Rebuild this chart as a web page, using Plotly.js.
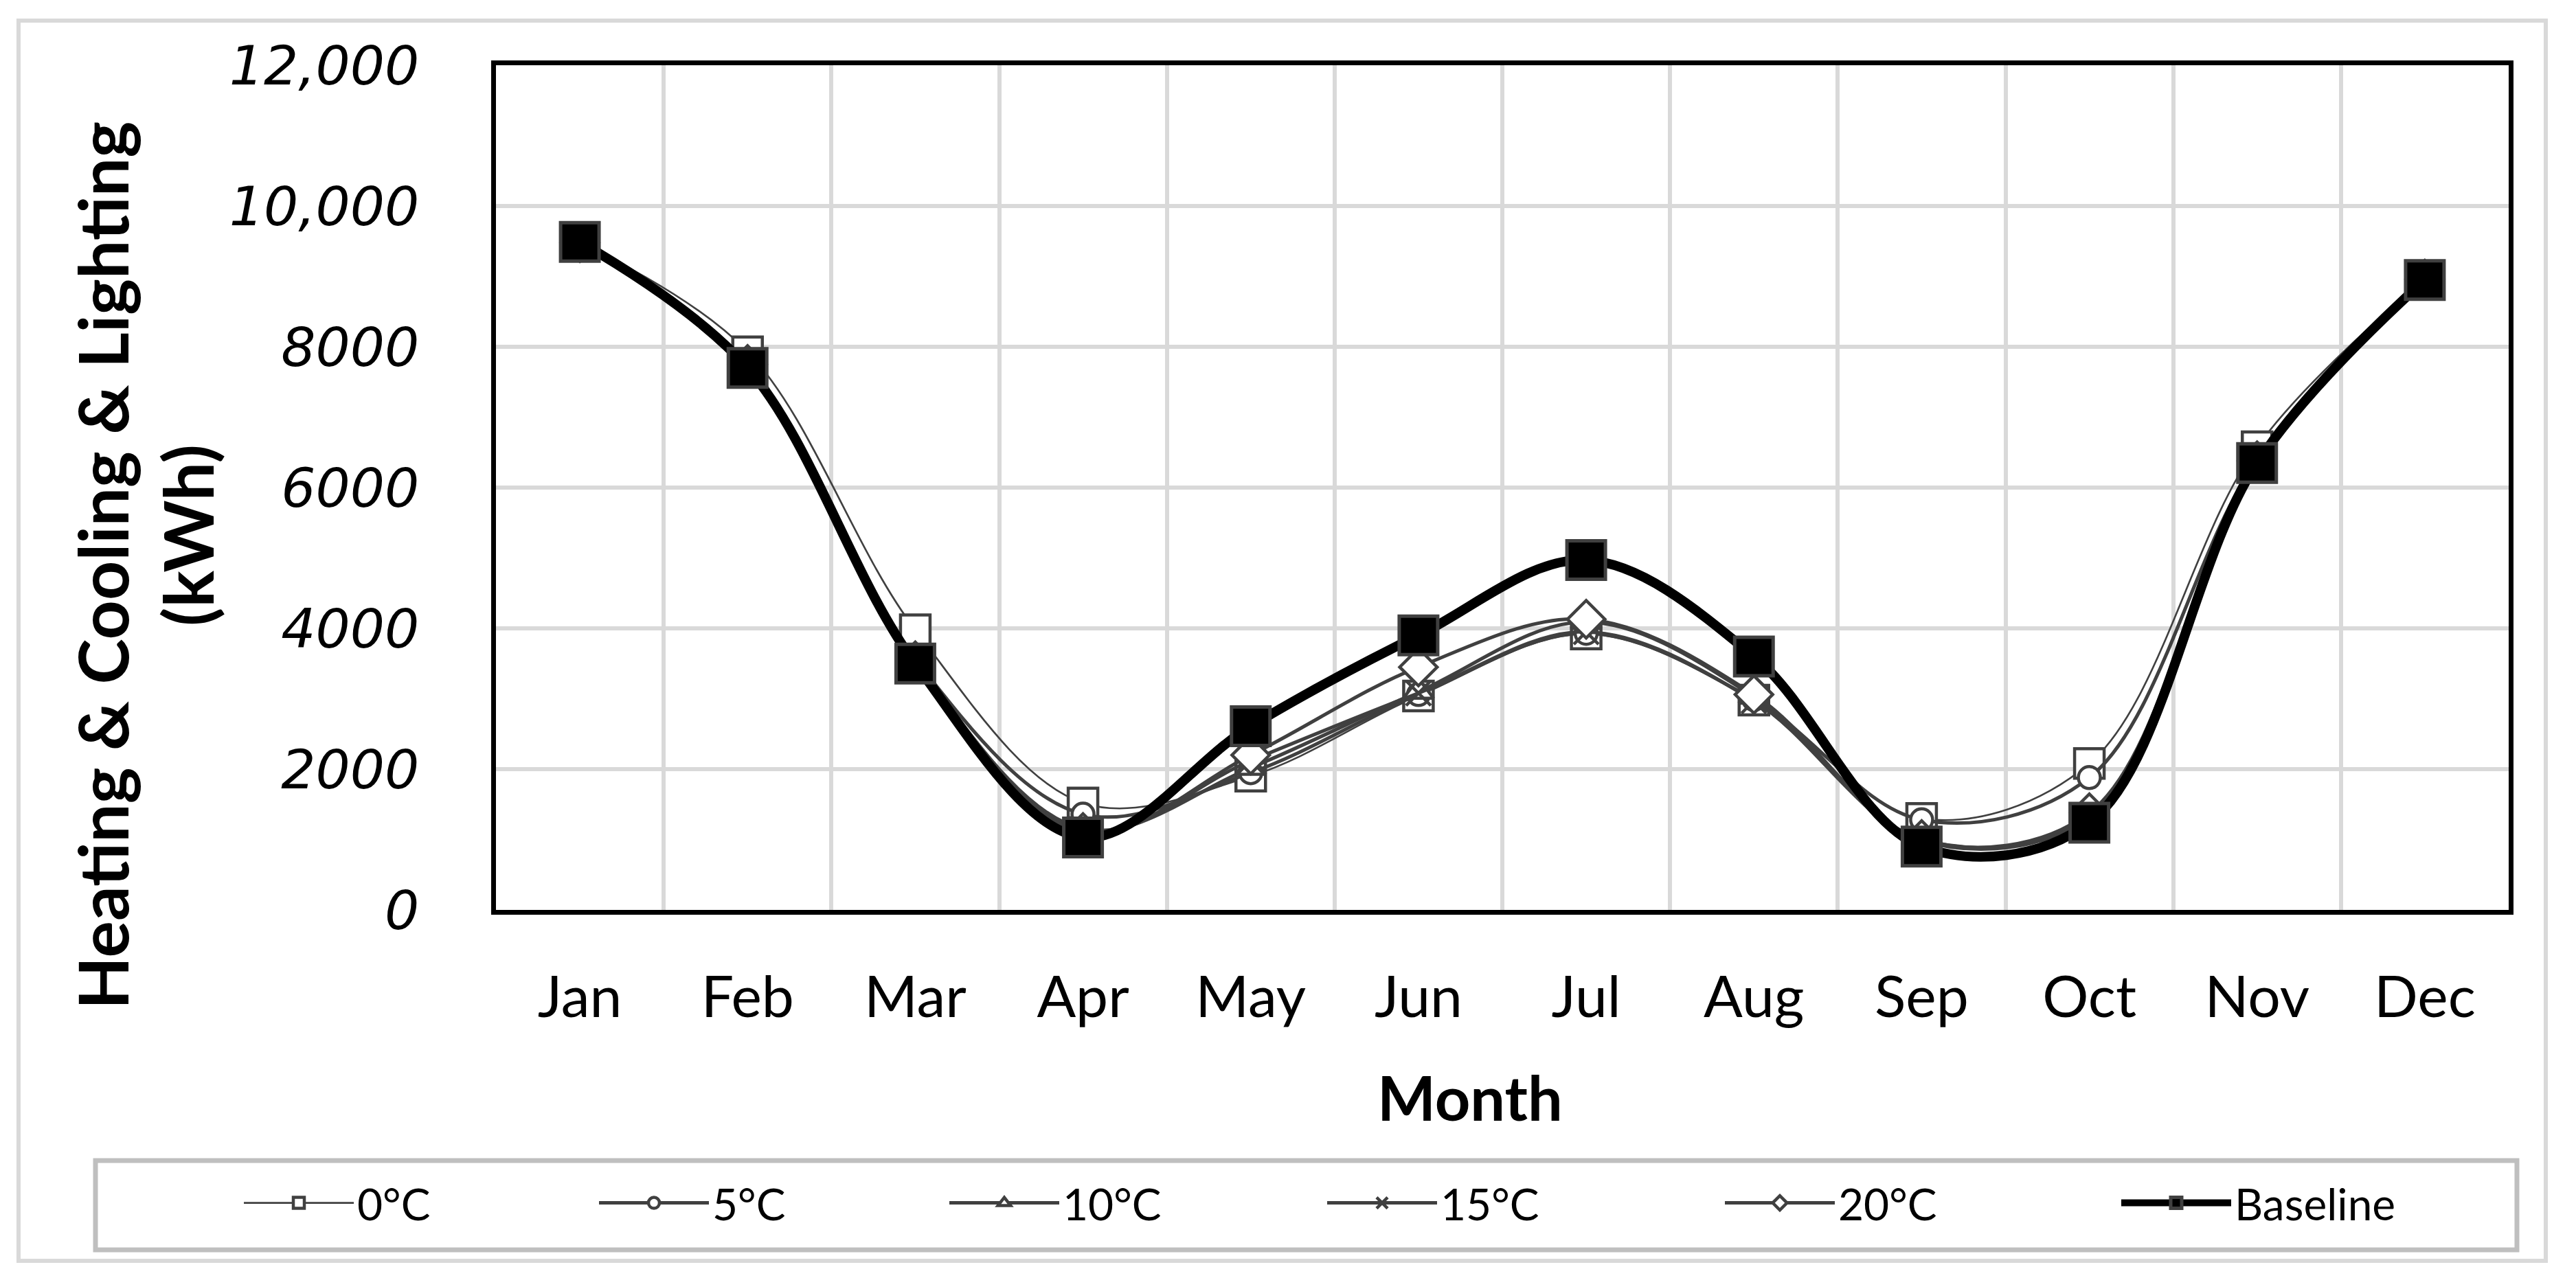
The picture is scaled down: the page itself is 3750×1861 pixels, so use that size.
<!DOCTYPE html>
<html>
<head>
<meta charset="utf-8">
<script src="https://cdn.plot.ly/plotly-3.0.1.min.js"></script>
<style>html,body{margin:0;padding:0;background:#fff;}#chart{width:3750px;height:1861px;}</style>
</head>
<body>
<div id="chart"></div>
<script>
// ---- data ----
const months = ["Jan","Feb","Mar","Apr","May","Jun","Jul","Aug","Sep","Oct","Nov","Dec"];
const t0  = [9480, 7930, 3980, 1520, 1900, 3040, 3920, 2980, 1300, 2080, 6580, 8960];
const t5  = [9480, 7760, 3560, 1360, 1950, 3060, 3930, 2990, 1280, 1880, 6400, 8960];
const t10 = [9480, 7740, 3540, 1150, 2020, 3100, 4090, 3030, 1000, 1350, 6380, 8960];
const t15 = [9480, 7740, 3530, 1110, 2120, 3080, 3950, 2970,  980, 1330, 6370, 8960];
const t20 = [9480, 7750, 3540, 1100, 2200, 3450, 4130, 3060, 1000, 1380, 6380, 8960];
const baseline = [9490, 7700, 3500, 1030, 2610, 3900, 4970, 3600, 900, 1240, 6350, 8950];
const seriesNames = ["0°C","5°C","10°C","15°C","20°C","Baseline"];
const yTickVals = [0, 2000, 4000, 6000, 8000, 10000, 12000];
const yTickText = ["0","2000","4000","6000","8000","10,000","12,000"];
const xTitle = "Month";
const yTitle1 = "Heating & Cooling & Lighting";
const yTitle2 = "(kWh)";

// ---- styles ----
const GRAY = "#404040";
const seriesData = [t0, t5, t10, t15, t20, baseline];
const symbols = ["square","circle","triangle-up","x-thin-open","diamond","square"];
const msizes = [43, 32, 38, 36, 42, 56];
const lwidths = [2.6, 5, 5, 5, 5, 14];
const lcolors = [GRAY, GRAY, GRAY, GRAY, GRAY, "#000000"];
const legendWidths = [342, 335, 375, 404, 402, 300];

const traces = seriesData.map((ys, i) => ({
  type: "scatter",
  mode: "lines+markers",
  name: seriesNames[i],
  x: months,
  y: ys,
  line: {shape: "spline", smoothing: 1, width: lwidths[i], color: lcolors[i]},
  marker: {
    symbol: symbols[i],
    size: msizes[i],
    color: i === 5 ? "#000000" : (symbols[i] === "x-thin-open" ? GRAY : "#ffffff"),
    line: {color: GRAY, width: i === 5 ? 5 : 4.5}
  },
  legendwidth: legendWidths[i],
  cliponaxis: false,
  hoverinfo: "skip"
}));

const L = 722, R = 98, T = 95, B = 536;
const W = 3750, H = 1861;
const pw = W - L - R, ph = H - T - B;
const px = v => (v - L) / pw;          // pixel x -> paper
const py = v => (H - B - v) / ph;      // pixel y -> paper

const layout = {
  width: W, height: H,
  margin: {l: L, r: R, t: T, b: B},
  paper_bgcolor: "#ffffff",
  plot_bgcolor: "#ffffff",
  showlegend: true,
  hovermode: false,
  font: {family: "Lato, sans-serif", color: "#000000"},
  xaxis: {
    type: "category",
    range: [-0.5, 11.5],
    tickson: "boundaries",
    showgrid: true, gridcolor: "#d9d9d9", gridwidth: 6,
    showline: true, linecolor: "#000000", linewidth: 7, mirror: true,
    ticks: "",
    ticklabelstandoff: 48,
    tickfont: {family: "Lato, sans-serif", size: 84, color: "#000000"},
    zeroline: false
  },
  yaxis: {
    range: [0, 12000],
    tickvals: yTickVals,
    ticktext: yTickText,
    showgrid: true, gridcolor: "#d9d9d9", gridwidth: 6,
    showline: true, linecolor: "#000000", linewidth: 7, mirror: true,
    ticks: "",
    ticklabelstandoff: 89,
    tickfont: {family: "DejaVu Sans, sans-serif", size: 79, style: "italic", color: "#000000"},
    zeroline: false
  },
  legend: {
    orientation: "h",
    x: px(350), xanchor: "left",
    y: py(1752), yanchor: "middle",
    bgcolor: "rgba(0,0,0,0)",
    borderwidth: 0,
    itemwidth: 160,
    font: {family: "Lato, sans-serif", size: 64, color: "#000000"},
    itemclick: false, itemdoubleclick: false
  },
  annotations: [
    {text: yTitle1, xref: "paper", yref: "paper", x: px(148), y: py(824), xanchor: "center", yanchor: "middle",
     textangle: -90, showarrow: false, font: {family: "Lato, sans-serif", size: 100, weight: "bold", color: "#000000"}},
    {text: yTitle2, xref: "paper", yref: "paper", x: px(272), y: py(780), xanchor: "center", yanchor: "middle",
     textangle: -90, showarrow: false, font: {family: "Lato, sans-serif", size: 100, weight: "bold", color: "#000000"}},
    {text: xTitle, xref: "paper", yref: "paper", x: px(2140), y: py(1597), xanchor: "center", yanchor: "middle",
     showarrow: false, font: {family: "Lato, sans-serif", size: 90, weight: "bold", color: "#000000"}}
  ],
  shapes: [
    {type: "rect", xref: "paper", yref: "paper", x0: px(27), x1: px(3706), y0: py(1836), y1: py(30),
     line: {color: "#d9d9d9", width: 6}, fillcolor: "rgba(0,0,0,0)", layer: "below"},
    {type: "rect", xref: "paper", yref: "paper", x0: px(139), x1: px(3664), y0: py(1820), y1: py(1690),
     line: {color: "#bfbfbf", width: 7}, fillcolor: "rgba(0,0,0,0)", layer: "below"}
  ]
};

Plotly.newPlot("chart", traces, layout, {staticPlot: true, displayModeBar: false});
</script>
</body>
</html>
